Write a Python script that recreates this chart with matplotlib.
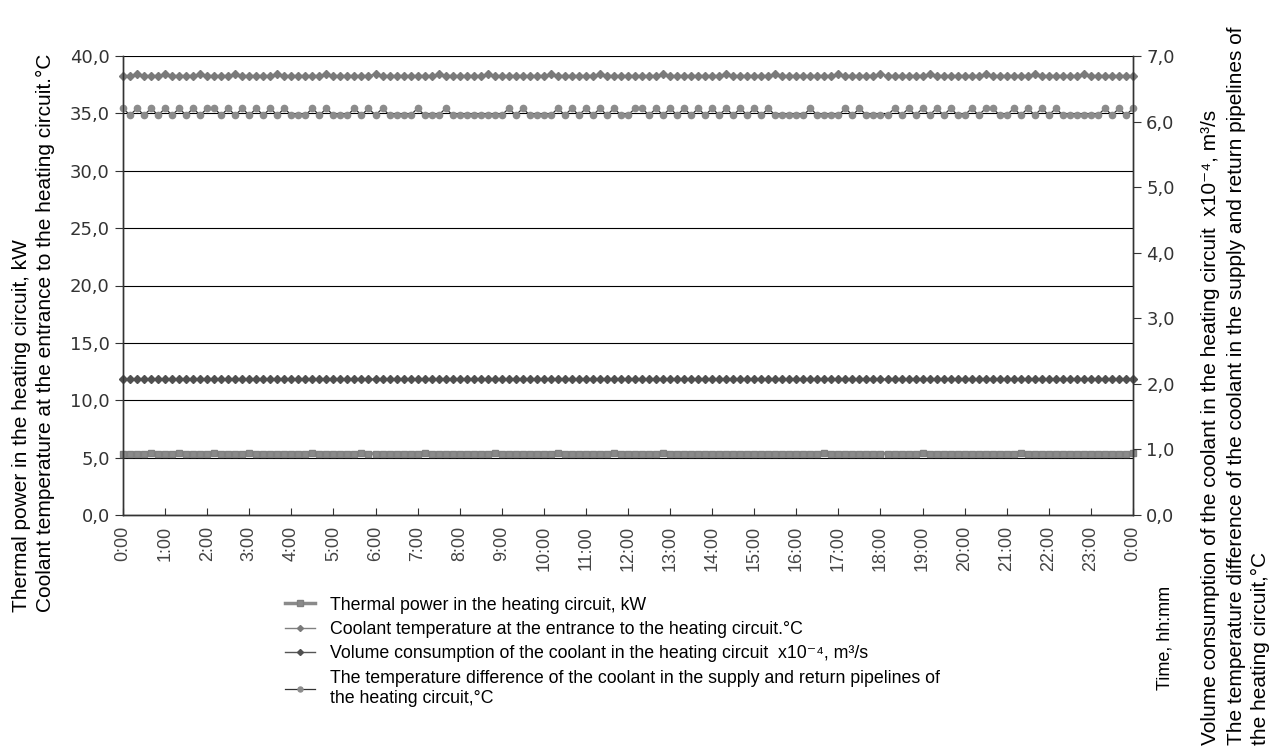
import numpy as np
import matplotlib
matplotlib.use("Agg")
import matplotlib.pyplot as plt

plt.rcParams['font.family'] = ['Liberation Sans', 'DejaVu Sans']

# 10-minute readings over one day (0:00 .. 24:00)
time_h = np.arange(145) / 6.0
hour_labels = ["%d:00" % h for h in range(24)] + ["0:00"]

# left axis
thermal_power = [
    5.35, 5.35, 5.35, 5.35, 5.4, 5.35, 5.35, 5.35, 5.4, 5.35, 5.35, 5.35,
    5.35, 5.4, 5.35, 5.35, 5.35, 5.35, 5.4, 5.35, 5.35, 5.35, 5.35, 5.35,
    5.35, 5.35, 5.35, 5.4, 5.35, 5.35, 5.35, 5.35, 5.35, 5.35, 5.4, 5.35,
    5.35, 5.35, 5.35, 5.35, 5.35, 5.35, 5.35, 5.4, 5.35, 5.35, 5.35, 5.35,
    5.35, 5.35, 5.35, 5.35, 5.35, 5.4, 5.35, 5.35, 5.35, 5.35, 5.35, 5.35,
    5.35, 5.35, 5.4, 5.35, 5.35, 5.35, 5.35, 5.35, 5.35, 5.35, 5.4, 5.35,
    5.35, 5.35, 5.35, 5.35, 5.35, 5.4, 5.35, 5.35, 5.35, 5.35, 5.35, 5.35,
    5.35, 5.35, 5.35, 5.35, 5.35, 5.35, 5.35, 5.35, 5.35, 5.35, 5.35, 5.35,
    5.35, 5.35, 5.35, 5.35, 5.4, 5.35, 5.35, 5.35, 5.35, 5.35, 5.35, 5.35,
    5.35, 5.35, 5.35, 5.35, 5.35, 5.35, 5.4, 5.35, 5.35, 5.35, 5.35, 5.35,
    5.35, 5.35, 5.35, 5.35, 5.35, 5.35, 5.35, 5.35, 5.4, 5.35, 5.35, 5.35,
    5.35, 5.35, 5.35, 5.35, 5.35, 5.35, 5.35, 5.35, 5.35, 5.35, 5.35, 5.35,
    5.4,
]
coolant_temp = [
    38.3, 38.3, 38.4, 38.3, 38.3, 38.3, 38.4, 38.3, 38.3, 38.3, 38.3, 38.4,
    38.3, 38.3, 38.3, 38.3, 38.4, 38.3, 38.3, 38.3, 38.3, 38.3, 38.4, 38.3,
    38.3, 38.3, 38.3, 38.3, 38.3, 38.4, 38.3, 38.3, 38.3, 38.3, 38.3, 38.3,
    38.4, 38.3, 38.3, 38.3, 38.3, 38.3, 38.3, 38.3, 38.3, 38.4, 38.3, 38.3,
    38.3, 38.3, 38.3, 38.3, 38.4, 38.3, 38.3, 38.3, 38.3, 38.3, 38.3, 38.3,
    38.3, 38.4, 38.3, 38.3, 38.3, 38.3, 38.3, 38.3, 38.4, 38.3, 38.3, 38.3,
    38.3, 38.3, 38.3, 38.3, 38.3, 38.4, 38.3, 38.3, 38.3, 38.3, 38.3, 38.3,
    38.3, 38.3, 38.4, 38.3, 38.3, 38.3, 38.3, 38.3, 38.3, 38.4, 38.3, 38.3,
    38.3, 38.3, 38.3, 38.3, 38.3, 38.3, 38.4, 38.3, 38.3, 38.3, 38.3, 38.3,
    38.4, 38.3, 38.3, 38.3, 38.3, 38.3, 38.3, 38.4, 38.3, 38.3, 38.3, 38.3,
    38.3, 38.3, 38.3, 38.4, 38.3, 38.3, 38.3, 38.3, 38.3, 38.3, 38.4, 38.3,
    38.3, 38.3, 38.3, 38.3, 38.3, 38.4, 38.3, 38.3, 38.3, 38.3, 38.3, 38.3,
    38.3,
]

# right axis
volume_flow = [
    2.07, 2.07, 2.07, 2.07, 2.08, 2.07, 2.08, 2.07, 2.07, 2.07, 2.08, 2.07,
    2.07, 2.07, 2.07, 2.07, 2.07, 2.07, 2.07, 2.07, 2.08, 2.07, 2.07, 2.07,
    2.07, 2.07, 2.07, 2.07, 2.08, 2.07, 2.07, 2.07, 2.08, 2.07, 2.07, 2.07,
    2.07, 2.07, 2.07, 2.07, 2.07, 2.07, 2.07, 2.07, 2.07, 2.08, 2.07, 2.07,
    2.07, 2.07, 2.07, 2.07, 2.07, 2.07, 2.07, 2.07, 2.07, 2.08, 2.07, 2.07,
    2.07, 2.07, 2.07, 2.07, 2.08, 2.07, 2.07, 2.07, 2.07, 2.07, 2.07, 2.07,
    2.07, 2.07, 2.07, 2.07, 2.07, 2.07, 2.07, 2.07, 2.08, 2.07, 2.07, 2.07,
    2.07, 2.07, 2.07, 2.07, 2.07, 2.07, 2.07, 2.07, 2.07, 2.07, 2.08, 2.07,
    2.07, 2.07, 2.07, 2.07, 2.07, 2.07, 2.07, 2.08, 2.07, 2.07, 2.07, 2.07,
    2.07, 2.07, 2.07, 2.07, 2.07, 2.07, 2.07, 2.07, 2.07, 2.08, 2.07, 2.07,
    2.07, 2.07, 2.07, 2.07, 2.07, 2.07, 2.07, 2.07, 2.07, 2.07, 2.07, 2.07,
    2.08, 2.07, 2.07, 2.07, 2.07, 2.07, 2.07, 2.07, 2.07, 2.07, 2.07, 2.07,
    2.07,
]
temp_diff = [
    6.20, 6.10, 6.20, 6.10, 6.20, 6.10, 6.20, 6.10, 6.20, 6.10, 6.20, 6.10,
    6.20, 6.20, 6.10, 6.20, 6.10, 6.20, 6.10, 6.20, 6.10, 6.20, 6.10, 6.20,
    6.10, 6.10, 6.10, 6.20, 6.10, 6.20, 6.10, 6.10, 6.10, 6.20, 6.10, 6.20,
    6.10, 6.20, 6.10, 6.10, 6.10, 6.10, 6.20, 6.10, 6.10, 6.10, 6.20, 6.10,
    6.10, 6.10, 6.10, 6.10, 6.10, 6.10, 6.10, 6.20, 6.10, 6.20, 6.10, 6.10,
    6.10, 6.10, 6.20, 6.10, 6.20, 6.10, 6.20, 6.10, 6.20, 6.10, 6.20, 6.10,
    6.10, 6.20, 6.20, 6.10, 6.20, 6.10, 6.20, 6.10, 6.20, 6.10, 6.20, 6.10,
    6.20, 6.10, 6.20, 6.10, 6.20, 6.10, 6.20, 6.10, 6.20, 6.10, 6.10, 6.10,
    6.10, 6.10, 6.20, 6.10, 6.10, 6.10, 6.10, 6.20, 6.10, 6.20, 6.10, 6.10,
    6.10, 6.10, 6.20, 6.10, 6.20, 6.10, 6.20, 6.10, 6.20, 6.10, 6.20, 6.10,
    6.10, 6.20, 6.10, 6.20, 6.20, 6.10, 6.10, 6.20, 6.10, 6.20, 6.10, 6.20,
    6.10, 6.20, 6.10, 6.10, 6.10, 6.10, 6.10, 6.10, 6.20, 6.10, 6.20, 6.10,
    6.20,
]

names = [
    "Thermal power in the heating circuit, kW",
    "Coolant temperature at the entrance to the heating circuit.\u00b0C",
    "Volume consumption of the coolant in the heating circuit  x10\u207b\u2074, m\u00b3/s",
    "The temperature difference of the coolant in the supply and return pipelines of\nthe heating circuit,\u00b0C",
]
left_titles = [
    "Thermal power in the heating circuit, kW",
    "Coolant temperature at the entrance to the heating circuit.\u00b0C",
]
right_titles = [
    "Volume consumption of the coolant in the heating circuit  x10\u207b\u2074, m\u00b3/s",
    "The temperature difference of the coolant in the supply and return pipelines of",
    "the heating circuit,\u00b0C",
]

W, H = 1270.0, 749.0
fig = plt.figure(figsize=(12.7, 7.49), dpi=100)
ax = fig.add_axes([123 / W, 1 - 515 / H, 1010 / W, 459 / H])
ax2 = ax.twinx()

ax.set_zorder(1)
ax2.set_zorder(2)
ax.patch.set_visible(False)
ax2.patch.set_visible(False)

l1, = ax.plot(time_h, thermal_power, color="#8a8a8a", lw=2.5, marker="s",
              ms=5, mec="#808080", mfc="#8a8a8a", clip_on=False)
l2, = ax.plot(time_h, coolant_temp, color="#808080", lw=1.0, marker="D",
              ms=3.8, mec="#7a7a7a", mfc="#7a7a7a", clip_on=False)
l3, = ax2.plot(time_h, volume_flow, color="#555555", lw=1.0, marker="D",
               ms=3.8, mec="#505050", mfc="#505050", clip_on=False)
l4, = ax2.plot(time_h, temp_diff, color="#333333", lw=0.9, marker="o",
               ms=4.5, mec="#8c8c8c", mfc="#8c8c8c", clip_on=False)

ax.set_xlim(0, 24)
ax.set_ylim(0, 40)
ax2.set_ylim(0, 7)
ax.set_yticks(np.arange(0, 41, 5))
ax.set_yticklabels([("%.1f" % v).replace(".", ",") for v in np.arange(0, 41, 5)])
ax2.set_yticks(np.arange(0, 8, 1))
ax2.set_yticklabels([("%.1f" % v).replace(".", ",") for v in np.arange(0, 8, 1)])
ax.set_xticks(np.arange(0, 25, 1))
ax.set_xticklabels(hour_labels, rotation=90, fontsize=13, color="#444444")

ax.grid(axis="y", color="black", lw=0.8)
ax.set_axisbelow(True)

for a in (ax, ax2):
    a.spines["top"].set_visible(False)
    for s in ("left", "right", "bottom"):
        a.spines[s].set_color("#333333")
        a.spines[s].set_linewidth(1.0)
ax.tick_params(axis="y", direction="out", length=6, color="#333333",
               labelsize=13, labelcolor="#333333")
ax2.tick_params(axis="y", direction="out", length=6, color="#333333",
                labelsize=13, labelcolor="#333333")
ax.tick_params(axis="x", direction="in", length=5, color="#333333", pad=8)
for t in ax.get_yticklabels() + ax2.get_yticklabels():
    t.set_family(["DejaVu Sans"])

# axis titles, one text per line so the spacing matches
for xp, txt in zip([22, 45], left_titles):
    fig.text(xp / W, 1 - 612 / H, txt, rotation=90, ha="center",
             va="bottom", fontsize=15)
fig.text(1165 / W, 1 - 690 / H, "Time, hh:mm", rotation=90,
         ha="center", va="bottom", fontsize=13)
for xp, txt in zip([1211, 1236, 1260], right_titles):
    fig.text(xp / W, 1 - 745 / H, txt, rotation=90, ha="center",
             va="bottom", fontsize=15)

fig.legend([l1, l2, l3, l4], names, loc="upper left",
           bbox_to_anchor=(281 / W, 1 - 593 / H), frameon=False,
           fontsize=12.8, handlelength=1.7, handletextpad=0.85,
           labelspacing=0.42, markerscale=0.8, borderaxespad=0,
           borderpad=0.2)

fig.savefig("out.png", dpi=100)
